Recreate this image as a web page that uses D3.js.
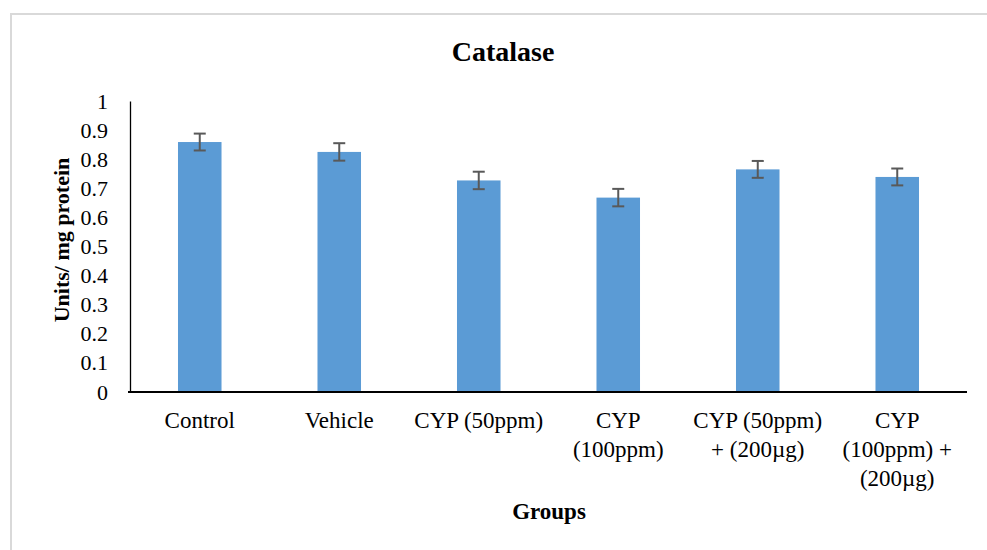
<!DOCTYPE html>
<html>
<head>
<meta charset="utf-8">
<script src="https://cdn.jsdelivr.net/npm/d3@7/dist/d3.min.js"></script>
<style>
  body { margin: 0; background: #fff; }
  text { font-family: "Liberation Serif", "Times New Roman", serif; fill: #000; }
</style>
</head>
<body>
<svg width="987" height="550"></svg>
<script>
// data
const groups = ["Control", "Vehicle", "CYP (50ppm)", "CYP (100ppm)", "CYP (50ppm) + (200µg)", "CYP (100ppm) + (200µg)"];
// how each group name is broken over lines under the axis
const groupLines = [
  ["Control"],
  ["Vehicle"],
  ["CYP (50ppm)"],
  ["CYP", "(100ppm)"],
  ["CYP (50ppm)", "+ (200µg)"],
  ["CYP", "(100ppm) +", "(200µg)"]
];
const catalase = [0.859, 0.825, 0.727, 0.668, 0.765, 0.739];
const errors = [0.029, 0.030, 0.030, 0.030, 0.029, 0.029];
const yTicks = [0, 0.1, 0.2, 0.3, 0.4, 0.5, 0.6, 0.7, 0.8, 0.9, 1];

const serif = '"Liberation Serif", "Times New Roman", serif';
let svg = d3.select("svg");

// outer frame (only top and left edges are visible)
svg.append("rect")
  .attr("x", 11)
  .attr("y", 14)
  .attr("width", 1000)
  .attr("height", 600)
  .attr("fill", "none")
  .attr("stroke", "#d9d9d9")
  .attr("stroke-width", 2);

//plot area
const plotLeft = 130, plotRight = 967, plotTop = 101, plotBottom = 392;

let xScale = d3.scaleBand()
  .domain(groups)
  .range([plotLeft, plotRight])
  .paddingInner(0.688)
  .paddingOuter(0.344);

let yScale = d3.scaleLinear()
  .domain([0, 1])
  .range([plotBottom, plotTop]);

// title
svg.append("text")
  .attr("x", 503)
  .attr("y", 61)
  .attr("text-anchor", "middle")
  .style("font-weight", "bold")
  .style("font-size", "28px")
  .text("Catalase");

// y axis
let yAxis = svg.append("g")
  .attr("transform", "translate(" + plotLeft + ",0)")
  .call(d3.axisLeft(yScale).tickValues(yTicks).tickSize(0).tickPadding(22)
    .tickFormat(function(d) { return d3.format("")(+d.toFixed(1)); }))
  .attr("font-family", serif)
  .attr("font-size", 22);
yAxis.select(".domain").attr("stroke", "#000").attr("stroke-width", 1.3);
yAxis.selectAll("text").attr("fill", "#000");

// bars
svg.selectAll(".bar")
  .data(catalase)
  .enter()
  .append("rect")
  .attr("class", "bar")
  .attr("x", function(d, i) { return xScale(groups[i]); })
  .attr("y", function(d) { return yScale(d); })
  .attr("width", xScale.bandwidth())
  .attr("height", function(d) { return yScale(0) - yScale(d); })
  .attr("fill", "#5b9bd5");

// error bars
let err = svg.selectAll(".err")
  .data(catalase)
  .enter()
  .append("g")
  .attr("class", "err")
  .attr("stroke", "#595959")
  .attr("stroke-width", 2);
err.append("line")
  .attr("x1", function(d, i) { return xScale(groups[i]) + xScale.bandwidth() / 2; })
  .attr("x2", function(d, i) { return xScale(groups[i]) + xScale.bandwidth() / 2; })
  .attr("y1", function(d, i) { return yScale(d + errors[i]); })
  .attr("y2", function(d, i) { return yScale(d - errors[i]); });
[1, -1].forEach(function(sign) {
  err.append("line")
    .attr("x1", function(d, i) { return xScale(groups[i]) + xScale.bandwidth() / 2 - 6; })
    .attr("x2", function(d, i) { return xScale(groups[i]) + xScale.bandwidth() / 2 + 6; })
    .attr("y1", function(d, i) { return yScale(d + sign * errors[i]); })
    .attr("y2", function(d, i) { return yScale(d + sign * errors[i]); });
});

// x axis
let xAxis = svg.append("g")
  .attr("transform", "translate(0," + plotBottom + ")")
  .call(d3.axisBottom(xScale).tickSize(0).tickFormat(""));
xAxis.select(".domain")
  .attr("d", "M" + (plotLeft - 2) + ",0H" + plotRight)
  .attr("stroke", "#000")
  .attr("stroke-width", 2);

// x tick labels, several lines each
let labels = svg.selectAll(".xlabel")
  .data(groupLines)
  .enter()
  .append("text")
  .attr("class", "xlabel")
  .attr("text-anchor", "middle")
  .style("font-size", "23px");
labels.selectAll("tspan")
  .data(function(d, i) { return d.map(function(s) { return { s: s, i: i }; }); })
  .enter()
  .append("tspan")
  .attr("x", function(d) { return xScale(groups[d.i]) + xScale.bandwidth() / 2; })
  .attr("y", function(d, j) { return 428 + j * 29; })
  .text(function(d) { return d.s; });

// axis titles
svg.append("text")
  .attr("x", 549)
  .attr("y", 519)
  .attr("text-anchor", "middle")
  .style("font-weight", "bold")
  .style("font-size", "23px")
  .text("Groups");

svg.append("text")
  .attr("transform", "translate(69,240) rotate(-90)")
  .attr("text-anchor", "middle")
  .style("font-weight", "bold")
  .style("font-size", "22px")
  .text("Units/ mg protein");
</script>
</body>
</html>
